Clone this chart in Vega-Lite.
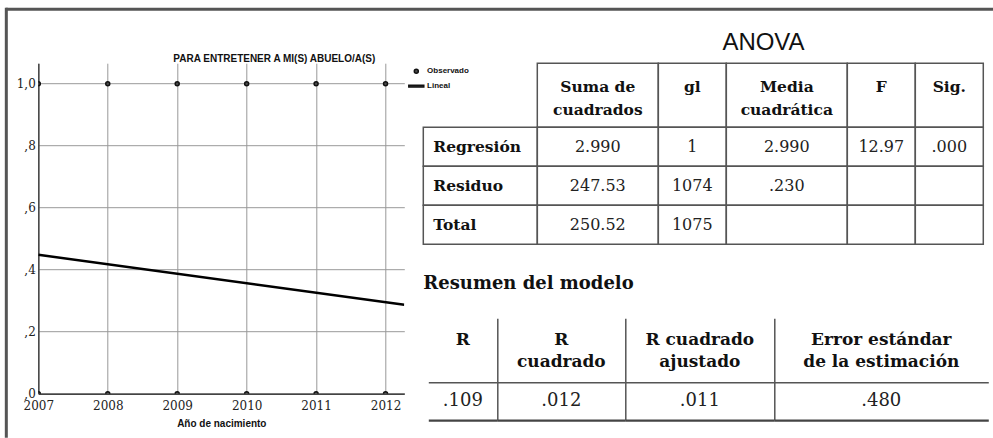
{
  "$schema": "https://vega.github.io/schema/vega-lite/v6.json",
  "background": "white",
  "padding": {"left": 4.3, "top": 7.2, "right": 0, "bottom": 0},
  "config": {
    "view": {"stroke": null},
    "legend": {"orient": "right", "offset": 4.2, "padding": 4, "labelFont": "Liberation Sans", "labelFontSize": 8, "labelFontWeight": "bold", "labelColor": "#111", "labelOffset": 6.8, "symbolSize": 16, "rowPadding": 6}
  },
  "datasets": {
    "obs": [
      {"year": 2007, "value": 1, "serie": "Observado"},
      {"year": 2008, "value": 1, "serie": "Observado"},
      {"year": 2009, "value": 1, "serie": "Observado"},
      {"year": 2010, "value": 1, "serie": "Observado"},
      {"year": 2011, "value": 1, "serie": "Observado"},
      {"year": 2012, "value": 1, "serie": "Observado"},
      {"year": 2007, "value": 0, "serie": "Observado"},
      {"year": 2008, "value": 0, "serie": "Observado"},
      {"year": 2009, "value": 0, "serie": "Observado"},
      {"year": 2010, "value": 0, "serie": "Observado"},
      {"year": 2011, "value": 0, "serie": "Observado"},
      {"year": 2012, "value": 0, "serie": "Observado"}
    ],
    "fit": [
      {"year": 2007, "value": 0.448},
      {"year": 2012.27, "value": 0.287}
    ],
    "anovaHead": [
      {"col": "suma", "label": "Suma de\ncuadrados"},
      {"col": "gl", "label": "gl\n"},
      {"col": "media", "label": "Media\ncuadrática"},
      {"col": "F", "label": "F\n"},
      {"col": "sig", "label": "Sig.\n"}
    ],
    "anova": [
      {"row": "Regresión", "col": "suma", "value": "2.990"},
      {"row": "Residuo", "col": "suma", "value": "247.53"},
      {"row": "Total", "col": "suma", "value": "250.52"},
      {"row": "Regresión", "col": "gl", "value": "1"},
      {"row": "Residuo", "col": "gl", "value": "1074"},
      {"row": "Total", "col": "gl", "value": "1075"},
      {"row": "Regresión", "col": "media", "value": "2.990"},
      {"row": "Residuo", "col": "media", "value": ".230"},
      {"row": "Total", "col": "media", "value": ""},
      {"row": "Regresión", "col": "F", "value": "12.97"},
      {"row": "Residuo", "col": "F", "value": ""},
      {"row": "Total", "col": "F", "value": ""},
      {"row": "Regresión", "col": "sig", "value": ".000"},
      {"row": "Residuo", "col": "sig", "value": ""},
      {"row": "Total", "col": "sig", "value": ""}
    ],
    "resumenHead": [
      {"col": "R", "label": "R\n"},
      {"col": "R2", "label": "R\ncuadrado"},
      {"col": "R2a", "label": "R cuadrado\najustado"},
      {"col": "err", "label": "Error estándar\nde la estimación"}
    ],
    "resumen": [
      {"col": "R", "value": ".109"},
      {"col": "R2", "value": ".012"},
      {"col": "R2a", "value": ".011"},
      {"col": "err", "value": ".480"}
    ]
  },
  "spacing": 0,
  "bounds": "flush",
  "hconcat": [
    {"width": 0.01, "height": 427, "data": {"values": []}, "mark": "point", "view": {"stroke": "#555", "strokeWidth": 3}},
    {
      "spacing": 0,
      "bounds": "flush",
      "vconcat": [
        {"width": 985, "height": 0.01, "data": {"values": []}, "mark": "point", "view": {"stroke": "#555", "strokeWidth": 3},
          "title": {"text": "ANOVA", "orient": "bottom", "font": "Liberation Sans", "fontSize": 24, "fontWeight": "normal", "color": "#111", "anchor": "middle", "frame": "group", "dx": 263.7, "offset": 41, "baseline": "alphabetic"}},
        {
          "spacing": 0,
          "bounds": "flush",
          "hconcat": [
            {"width": 30.2, "height": 1, "data": {"values": []}, "mark": "point"},
            {
              "spacing": 0,
              "bounds": "flush",
              "vconcat": [
                {"width": 1, "height": 52.85, "data": {"values": []}, "mark": "point"},
                {
                  "spacing": 19,
                  "bounds": "flush",
                  "resolve": {"scale": {"shape": "independent"}, "legend": {"shape": "independent"}},
                  "hconcat": [
                    {
                      "width": 366,
                      "height": 330.45,
                      "title": {"text": "PARA ENTRETENER A MI(S) ABUELO/A(S)", "font": "Liberation Sans", "fontSize": 10, "fontWeight": "bold", "color": "#111", "anchor": "middle", "frame": "group", "dx": 53, "offset": -8.65, "baseline": "alphabetic"},
                      "encoding": {
                        "x": {"field": "year", "type": "quantitative", "scale": {"domain": [2007, 2012.27], "nice": false, "zero": false},
                          "axis": {"values": [2007, 2008, 2009, 2010, 2011, 2012], "format": "d", "title": "Año de nacimiento", "titleFont": "Liberation Sans", "titleFontSize": 10, "titleFontWeight": "bold", "titleColor": "#111", "titlePadding": 7, "labelFont": "DejaVu Serif", "labelFontSize": 12, "labelColor": "#222", "labelPadding": 7, "labelFlush": false, "labelOverlap": false, "ticks": false, "domain": true, "domainColor": "#444", "domainWidth": 1.5, "grid": true, "gridColor": "#999", "gridWidth": 1}},
                        "y": {"field": "value", "type": "quantitative", "scale": {"domain": [0, 1.066], "nice": false},
                          "axis": {"values": [0, 0.2, 0.4, 0.6, 0.8, 1], "labelExpr": "datum.value == 1 ? '1,0' : ',' + format(datum.value * 10, '.0f')", "title": null, "ticks": false, "domain": true, "domainColor": "#444", "domainWidth": 1.5, "grid": true, "gridColor": "#999", "gridWidth": 1, "labelFont": "DejaVu Serif", "labelFontSize": 12, "labelColor": "#222", "labelPadding": 3}}
                      },
                      "layer": [
                        {
                          "data": {"name": "obs"},
                          "mark": {"type": "point", "filled": false, "fill": "#4a4a4a", "stroke": "#111", "strokeWidth": 1.5, "opacity": 1, "size": 16, "clip": true},
                          "encoding": {
                            "shape": {"field": "serie", "type": "nominal", "scale": {"domain": ["Observado", "Lineal"], "range": ["circle", "M-3.75,-0.45H3.75V0.45H-3.75Z"]}, "legend": {"title": null, "symbolSize": 16}}
                          }
                        },
                        {
                          "data": {"name": "fit"},
                          "mark": {"type": "line", "color": "#000", "strokeWidth": 2.5, "clip": true}
                        }
                      ]
                    },
                    {
                      "spacing": 30,
                      "bounds": "full",
                      "vconcat": [
                        {
                          "columns": 6,
                          "align": "each",
                          "spacing": 0,
                          "bounds": "flush",
                          "concat": [
                            {"width": 114, "height": 64, "data": {"values": []}, "mark": "point"},
                            {"width": 121, "height": 64, "data": {"name": "anovaHead"}, "transform": [{"filter": "datum.col === 'suma'"}], "view": {"stroke": "#555", "strokeWidth": 1.5}, "mark": {"type": "text", "font": "DejaVu Serif", "fontSize": 15.5, "fontWeight": "bold", "lineBreak": "\n", "lineHeight": 23, "dy": -7.8, "color": "#111"}, "encoding": {"text": {"field": "label", "type": "nominal"}}},
                            {"width": 68, "height": 64, "data": {"name": "anovaHead"}, "transform": [{"filter": "datum.col === 'gl'"}], "view": {"stroke": "#555", "strokeWidth": 1.5}, "mark": {"type": "text", "font": "DejaVu Serif", "fontSize": 15.5, "fontWeight": "bold", "lineBreak": "\n", "lineHeight": 23, "dy": -7.8, "color": "#111"}, "encoding": {"text": {"field": "label", "type": "nominal"}}},
                            {"width": 121, "height": 64, "data": {"name": "anovaHead"}, "transform": [{"filter": "datum.col === 'media'"}], "view": {"stroke": "#555", "strokeWidth": 1.5}, "mark": {"type": "text", "font": "DejaVu Serif", "fontSize": 15.5, "fontWeight": "bold", "lineBreak": "\n", "lineHeight": 23, "dy": -7.8, "color": "#111"}, "encoding": {"text": {"field": "label", "type": "nominal"}}},
                            {"width": 68, "height": 64, "data": {"name": "anovaHead"}, "transform": [{"filter": "datum.col === 'F'"}], "view": {"stroke": "#555", "strokeWidth": 1.5}, "mark": {"type": "text", "font": "DejaVu Serif", "fontSize": 15.5, "fontWeight": "bold", "lineBreak": "\n", "lineHeight": 23, "dy": -7.8, "color": "#111"}, "encoding": {"text": {"field": "label", "type": "nominal"}}},
                            {"width": 68, "height": 64, "data": {"name": "anovaHead"}, "transform": [{"filter": "datum.col === 'sig'"}], "view": {"stroke": "#555", "strokeWidth": 1.5}, "mark": {"type": "text", "font": "DejaVu Serif", "fontSize": 15.5, "fontWeight": "bold", "lineBreak": "\n", "lineHeight": 23, "dy": -7.8, "color": "#111"}, "encoding": {"text": {"field": "label", "type": "nominal"}}},

                            {"width": 114, "height": 117, "data": {"name": "anova"}, "transform": [{"filter": "datum.col === 'suma'"}],
                              "encoding": {"x": {"field": "col", "type": "nominal", "axis": null, "scale": {"paddingInner": 0, "paddingOuter": 0}}, "y": {"field": "row", "type": "nominal", "sort": ["Regresión", "Residuo", "Total"], "axis": null, "scale": {"paddingInner": 0, "paddingOuter": 0}}},
                              "layer": [
                                {"mark": {"type": "rect", "filled": false, "stroke": "#555", "strokeWidth": 1.5}},
                                {"mark": {"type": "text", "font": "DejaVu Serif", "fontSize": 15.5, "fontWeight": "bold", "align": "left", "dx": -47, "color": "#111"}, "encoding": {"text": {"field": "row", "type": "nominal"}}}
                              ]},
                            {"width": 121, "height": 117, "data": {"name": "anova"}, "transform": [{"filter": "datum.col === 'suma'"}],
                              "encoding": {"x": {"field": "col", "type": "nominal", "axis": null, "scale": {"paddingInner": 0, "paddingOuter": 0}}, "y": {"field": "row", "type": "nominal", "sort": ["Regresión", "Residuo", "Total"], "axis": null, "scale": {"paddingInner": 0, "paddingOuter": 0}}},
                              "layer": [
                                {"mark": {"type": "rect", "filled": false, "stroke": "#555", "strokeWidth": 1.5}},
                                {"mark": {"type": "text", "font": "DejaVu Serif", "fontSize": 16, "color": "#222"}, "encoding": {"text": {"field": "value", "type": "nominal"}}}
                              ]},
                            {"width": 68, "height": 117, "data": {"name": "anova"}, "transform": [{"filter": "datum.col === 'gl'"}],
                              "encoding": {"x": {"field": "col", "type": "nominal", "axis": null, "scale": {"paddingInner": 0, "paddingOuter": 0}}, "y": {"field": "row", "type": "nominal", "sort": ["Regresión", "Residuo", "Total"], "axis": null, "scale": {"paddingInner": 0, "paddingOuter": 0}}},
                              "layer": [
                                {"mark": {"type": "rect", "filled": false, "stroke": "#555", "strokeWidth": 1.5}},
                                {"mark": {"type": "text", "font": "DejaVu Serif", "fontSize": 16, "color": "#222"}, "encoding": {"text": {"field": "value", "type": "nominal"}}}
                              ]},
                            {"width": 121, "height": 117, "data": {"name": "anova"}, "transform": [{"filter": "datum.col === 'media'"}],
                              "encoding": {"x": {"field": "col", "type": "nominal", "axis": null, "scale": {"paddingInner": 0, "paddingOuter": 0}}, "y": {"field": "row", "type": "nominal", "sort": ["Regresión", "Residuo", "Total"], "axis": null, "scale": {"paddingInner": 0, "paddingOuter": 0}}},
                              "layer": [
                                {"mark": {"type": "rect", "filled": false, "stroke": "#555", "strokeWidth": 1.5}},
                                {"mark": {"type": "text", "font": "DejaVu Serif", "fontSize": 16, "color": "#222"}, "encoding": {"text": {"field": "value", "type": "nominal"}}}
                              ]},
                            {"width": 68, "height": 117, "data": {"name": "anova"}, "transform": [{"filter": "datum.col === 'F'"}],
                              "encoding": {"x": {"field": "col", "type": "nominal", "axis": null, "scale": {"paddingInner": 0, "paddingOuter": 0}}, "y": {"field": "row", "type": "nominal", "sort": ["Regresión", "Residuo", "Total"], "axis": null, "scale": {"paddingInner": 0, "paddingOuter": 0}}},
                              "layer": [
                                {"mark": {"type": "rect", "filled": false, "stroke": "#555", "strokeWidth": 1.5}},
                                {"mark": {"type": "text", "font": "DejaVu Serif", "fontSize": 16, "color": "#222"}, "encoding": {"text": {"field": "value", "type": "nominal"}}}
                              ]},
                            {"width": 68, "height": 117, "data": {"name": "anova"}, "transform": [{"filter": "datum.col === 'sig'"}],
                              "encoding": {"x": {"field": "col", "type": "nominal", "axis": null, "scale": {"paddingInner": 0, "paddingOuter": 0}}, "y": {"field": "row", "type": "nominal", "sort": ["Regresión", "Residuo", "Total"], "axis": null, "scale": {"paddingInner": 0, "paddingOuter": 0}}},
                              "layer": [
                                {"mark": {"type": "rect", "filled": false, "stroke": "#555", "strokeWidth": 1.5}},
                                {"mark": {"type": "text", "font": "DejaVu Serif", "fontSize": 16, "color": "#222"}, "encoding": {"text": {"field": "value", "type": "nominal"}}}
                              ]}
                          ]
                        },
                        {
                          "columns": 5,
                          "align": "each",
                          "spacing": 0,
                          "bounds": "flush",
                          "concat": [
                            {"width": 5, "height": 64, "data": {"values": []}, "mark": "point",
                              "title": {"text": "Resumen del modelo", "font": "DejaVu Serif", "fontSize": 18, "fontWeight": "bold", "color": "#111", "anchor": "start", "frame": "group", "offset": 10.7, "baseline": "alphabetic"}},
                            {"width": 69, "height": 64, "data": {"name": "resumenHead"}, "transform": [{"filter": "datum.col === 'R'"}], "mark": {"type": "text", "font": "DejaVu Serif", "fontSize": 17, "fontWeight": "bold", "lineBreak": "\n", "lineHeight": 22, "dy": -10.3, "color": "#111"},
                              "encoding": {"x": {"field": "col", "type": "nominal", "axis": {"orient": "bottom", "domain": true, "domainColor": "#555", "domainWidth": 1.5, "labels": false, "ticks": false, "grid": false, "title": null}},
                                "y": {"field": "col", "type": "nominal", "axis": {"orient": "right", "domain": true, "domainColor": "#555", "domainWidth": 1.5, "labels": false, "ticks": false, "grid": false, "title": null}},
                                "text": {"field": "label", "type": "nominal"}}},
                            {"width": 128, "height": 64, "data": {"name": "resumenHead"}, "transform": [{"filter": "datum.col === 'R2'"}], "mark": {"type": "text", "font": "DejaVu Serif", "fontSize": 17, "fontWeight": "bold", "lineBreak": "\n", "lineHeight": 22, "dy": -10.3, "color": "#111"},
                              "encoding": {"x": {"field": "col", "type": "nominal", "axis": {"orient": "bottom", "domain": true, "domainColor": "#555", "domainWidth": 1.5, "labels": false, "ticks": false, "grid": false, "title": null}},
                                "y": {"field": "col", "type": "nominal", "axis": {"orient": "right", "domain": true, "domainColor": "#555", "domainWidth": 1.5, "labels": false, "ticks": false, "grid": false, "title": null}},
                                "text": {"field": "label", "type": "nominal"}}},
                            {"width": 149, "height": 64, "data": {"name": "resumenHead"}, "transform": [{"filter": "datum.col === 'R2a'"}], "mark": {"type": "text", "font": "DejaVu Serif", "fontSize": 17, "fontWeight": "bold", "lineBreak": "\n", "lineHeight": 22, "dy": -10.3, "color": "#111"},
                              "encoding": {"x": {"field": "col", "type": "nominal", "axis": {"orient": "bottom", "domain": true, "domainColor": "#555", "domainWidth": 1.5, "labels": false, "ticks": false, "grid": false, "title": null}},
                                "y": {"field": "col", "type": "nominal", "axis": {"orient": "right", "domain": true, "domainColor": "#555", "domainWidth": 1.5, "labels": false, "ticks": false, "grid": false, "title": null}},
                                "text": {"field": "label", "type": "nominal"}}},
                            {"width": 214, "height": 64, "data": {"name": "resumenHead"}, "transform": [{"filter": "datum.col === 'err'"}], "mark": {"type": "text", "font": "DejaVu Serif", "fontSize": 17, "fontWeight": "bold", "lineBreak": "\n", "lineHeight": 22, "dy": -10.3, "color": "#111"},
                              "encoding": {"x": {"field": "col", "type": "nominal", "axis": {"orient": "bottom", "domain": true, "domainColor": "#555", "domainWidth": 1.5, "labels": false, "ticks": false, "grid": false, "title": null}},
                                "y": {"field": "col", "type": "nominal", "axis": null},
                                "text": {"field": "label", "type": "nominal"}}},

                            {"width": 5, "height": 38, "data": {"values": []}, "mark": "point"},
                            {"width": 69, "height": 38, "data": {"name": "resumen"}, "transform": [{"filter": "datum.col === 'R'"}], "mark": {"type": "text", "font": "DejaVu Serif", "fontSize": 18, "color": "#222"},
                              "encoding": {"x": {"field": "col", "type": "nominal", "axis": {"orient": "bottom", "domain": true, "domainColor": "#444", "domainWidth": 2.2, "labels": false, "ticks": false, "grid": false, "title": null}},
                                "y": {"field": "col", "type": "nominal", "axis": {"orient": "right", "domain": true, "domainColor": "#555", "domainWidth": 1.5, "labels": false, "ticks": false, "grid": false, "title": null}},
                                "text": {"field": "value", "type": "nominal"}}},
                            {"width": 128, "height": 38, "data": {"name": "resumen"}, "transform": [{"filter": "datum.col === 'R2'"}], "mark": {"type": "text", "font": "DejaVu Serif", "fontSize": 18, "color": "#222"},
                              "encoding": {"x": {"field": "col", "type": "nominal", "axis": {"orient": "bottom", "domain": true, "domainColor": "#444", "domainWidth": 2.2, "labels": false, "ticks": false, "grid": false, "title": null}},
                                "y": {"field": "col", "type": "nominal", "axis": {"orient": "right", "domain": true, "domainColor": "#555", "domainWidth": 1.5, "labels": false, "ticks": false, "grid": false, "title": null}},
                                "text": {"field": "value", "type": "nominal"}}},
                            {"width": 149, "height": 38, "data": {"name": "resumen"}, "transform": [{"filter": "datum.col === 'R2a'"}], "mark": {"type": "text", "font": "DejaVu Serif", "fontSize": 18, "color": "#222"},
                              "encoding": {"x": {"field": "col", "type": "nominal", "axis": {"orient": "bottom", "domain": true, "domainColor": "#444", "domainWidth": 2.2, "labels": false, "ticks": false, "grid": false, "title": null}},
                                "y": {"field": "col", "type": "nominal", "axis": {"orient": "right", "domain": true, "domainColor": "#555", "domainWidth": 1.5, "labels": false, "ticks": false, "grid": false, "title": null}},
                                "text": {"field": "value", "type": "nominal"}}},
                            {"width": 214, "height": 38, "data": {"name": "resumen"}, "transform": [{"filter": "datum.col === 'err'"}], "mark": {"type": "text", "font": "DejaVu Serif", "fontSize": 18, "color": "#222"},
                              "encoding": {"x": {"field": "col", "type": "nominal", "axis": {"orient": "bottom", "domain": true, "domainColor": "#444", "domainWidth": 2.2, "labels": false, "ticks": false, "grid": false, "title": null}},
                                "y": {"field": "col", "type": "nominal", "axis": null},
                                "text": {"field": "value", "type": "nominal"}}}
                          ]
                        }
                      ]
                    }
                  ]
                }
              ]
            }
          ]
        }
      ]
    }
  ]
}
